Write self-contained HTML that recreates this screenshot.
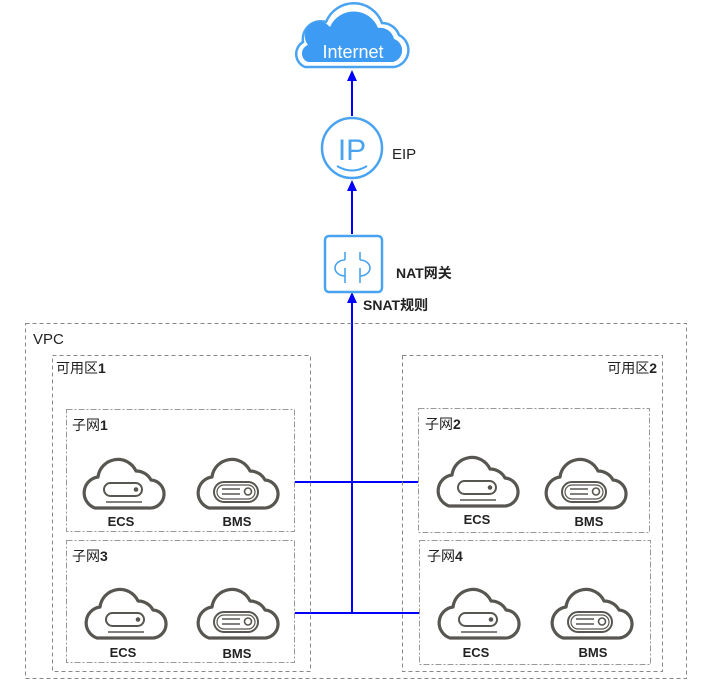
<!DOCTYPE html>
<html><head><meta charset="utf-8"><style>
html,body{margin:0;padding:0;background:#fff;}
svg{display:block;}
text{font-family:"Liberation Sans","Noto Sans CJK SC",sans-serif;}
</style></head><body>
<svg width="708" height="689" viewBox="0 0 708 689" xmlns="http://www.w3.org/2000/svg">
<defs>
<g id="cl">
<path d="M-27,27 H27 A14,14 0 0 0 29,-1 A17,17 0 0 0 14,-10 A20,20 0 0 0 -24,-4 A16,16 0 0 0 -27,27 Z" fill="#fff" stroke="#585650" stroke-width="3.2" stroke-linejoin="round"/>
</g>
<g id="ecs">
<use href="#cl"/>
<rect x="-18" y="2" width="38" height="13" rx="6.5" fill="none" stroke="#585650" stroke-width="2"/>
<circle cx="14" cy="8.5" r="2.3" fill="#585650"/>
<line x1="-16" y1="21" x2="20" y2="21" stroke="#585650" stroke-width="1.6"/>
</g>
<g id="bms">
<use href="#cl"/>
<rect x="-22" y="1" width="44" height="20" rx="10" fill="none" stroke="#585650" stroke-width="2"/>
<rect x="-19" y="4" width="38" height="14" rx="7" fill="none" stroke="#585650" stroke-width="1.2"/>
<line x1="-14" y1="8" x2="4" y2="8" stroke="#585650" stroke-width="1.4"/>
<line x1="-14" y1="13" x2="4" y2="13" stroke="#585650" stroke-width="1.4"/>
<circle cx="12" cy="10.5" r="3.5" fill="none" stroke="#585650" stroke-width="1.6"/>
</g>
<marker id="ah" markerWidth="11" markerHeight="10" refX="5" refY="5" orient="auto" markerUnits="userSpaceOnUse">
<path d="M0,0 L11,5 L0,10 Z" fill="#0000ff"/>
</marker>
</defs>

<path d="M305,67 H394 A17,17 0 0 0 399,35 A18,18 0 0 0 382,23 A30,30 0 0 0 326,22 A18,18 0 0 0 303,42 A14,14 0 0 0 305,67 Z" fill="#fff" stroke="#4aa3f0" stroke-width="2.5"/>
<path d="M308,62 H393 A12,12 0 0 0 394,39 A14,14 0 0 0 378,28 A26,26 0 0 0 330,27 A14,14 0 0 0 308,45 A9,9 0 0 0 308,62 Z" fill="#3d9bf3"/>
<text x="353" y="58" font-size="18" fill="#fff" text-anchor="middle">Internet</text>

<line x1="352" y1="116" x2="352" y2="76" stroke="#0000ff" stroke-width="2" marker-end="url(#ah)"/>
<line x1="352" y1="234" x2="352" y2="186" stroke="#0000ff" stroke-width="2" marker-end="url(#ah)"/>
<line x1="352" y1="614" x2="352" y2="298" stroke="#0000ff" stroke-width="2" marker-end="url(#ah)"/>
<line x1="295" y1="482" x2="418" y2="482" stroke="#0000ff" stroke-width="2"/>
<line x1="295" y1="613" x2="419" y2="613" stroke="#0000ff" stroke-width="2"/>

<circle cx="352" cy="148" r="30" fill="#fff" stroke="#4aa3f0" stroke-width="2.5"/>
<text x="352" y="160" font-size="30" fill="#4aa3f0" text-anchor="middle">IP</text>
<path d="M337,166 Q352,175 367,166" fill="none" stroke="#4aa3f0" stroke-width="2"/>
<text x="392" y="159" font-size="15" fill="#222">EIP</text>

<rect x="325" y="236" width="57" height="56" rx="4" fill="#fff" stroke="#4aa3f0" stroke-width="2.5"/>
<path d="M345,252 V260 M360,252 V260 M345,260 A10,8 0 0 0 345,276 M360,260 A10,8 0 0 1 360,276 M345,268 V283 M360,268 V283" fill="none" stroke="#4aa3f0" stroke-width="1.6"/>
<text x="396" y="278" font-size="14" font-weight="bold" fill="#222">NAT网关</text>
<text x="363" y="310" font-size="14" font-weight="bold" fill="#222">SNAT规则</text>

<rect x="25.5" y="323.5" width="661" height="355" fill="none" stroke="#888" stroke-dasharray="4,3"/>
<text x="33" y="344" font-size="15" fill="#222">VPC</text>
<rect x="52.5" y="355.5" width="258" height="316" fill="none" stroke="#888" stroke-dasharray="4,3"/>
<text x="56" y="373" font-size="14" fill="#222">可用区<tspan font-weight="bold">1</tspan></text>
<rect x="402.5" y="355.5" width="260" height="316" fill="none" stroke="#888" stroke-dasharray="4,3"/>
<text x="657" y="373" font-size="14" fill="#222" text-anchor="end">可用区<tspan font-weight="bold">2</tspan></text>

<rect x="66.5" y="409.5" width="228" height="122" fill="none" stroke="#999" stroke-dasharray="6,2,2,2"/>
<rect x="66.5" y="540.5" width="228" height="122" fill="none" stroke="#999" stroke-dasharray="6,2,2,2"/>
<rect x="418.5" y="408.5" width="231" height="124" fill="none" stroke="#999" stroke-dasharray="6,2,2,2"/>
<rect x="419.5" y="540.5" width="231" height="124" fill="none" stroke="#999" stroke-dasharray="6,2,2,2"/>
<text x="72" y="430" font-size="14" fill="#222">子网<tspan font-weight="bold">1</tspan></text>
<text x="72" y="561" font-size="14" fill="#222">子网<tspan font-weight="bold">3</tspan></text>
<text x="425" y="429" font-size="14" fill="#222">子网<tspan font-weight="bold">2</tspan></text>
<text x="427" y="561" font-size="14" fill="#222">子网<tspan font-weight="bold">4</tspan></text>

<use href="#ecs" x="122" y="481"/>
<use href="#bms" x="236" y="481"/>
<use href="#ecs" x="476" y="479"/>
<use href="#bms" x="584" y="481"/>
<use href="#ecs" x="124" y="611"/>
<use href="#bms" x="236" y="611"/>
<use href="#ecs" x="477" y="611"/>
<use href="#bms" x="590" y="611"/>

<g font-size="13" font-weight="bold" fill="#222" text-anchor="middle">
<text x="121" y="526">ECS</text><text x="237" y="526">BMS</text>
<text x="477" y="524">ECS</text><text x="589" y="526">BMS</text>
<text x="123" y="657">ECS</text><text x="237" y="658">BMS</text>
<text x="476" y="657">ECS</text><text x="593" y="657">BMS</text>
</g>
</svg>
</body></html>
